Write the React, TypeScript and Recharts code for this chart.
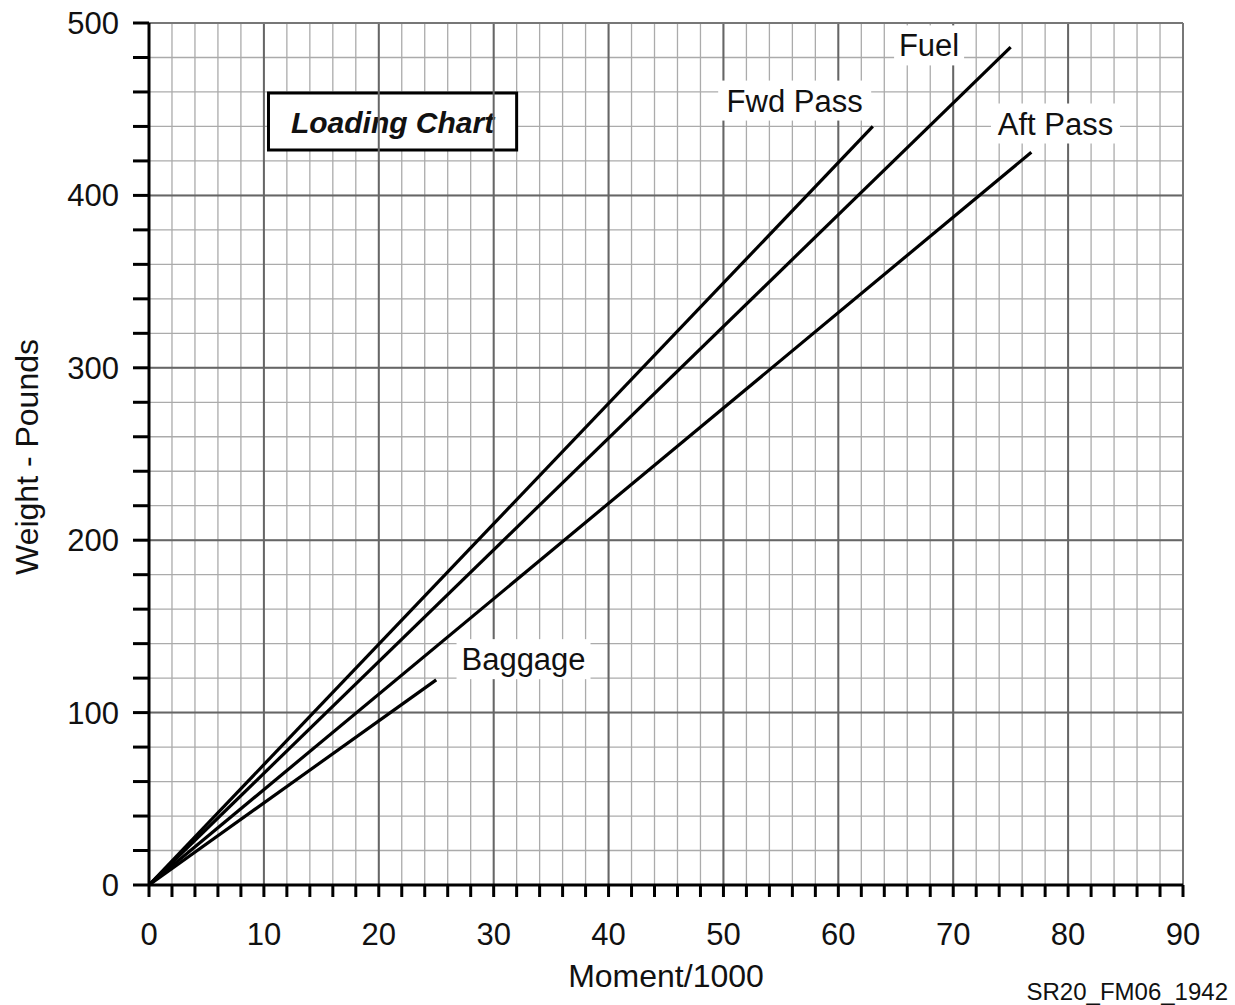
import React from "react"
import {
  LineChart,
  Line,
  XAxis,
  YAxis,
  CartesianGrid,
  ReferenceLine,
  ReferenceArea,
  ReferenceDot,
} from "recharts"

// weight (lb) vs moment/1000 for each loading station
const fwdPass = [
  { x: 0, y: 0 },
  { x: 63, y: 440 },
]
const fuel = [
  { x: 0, y: 0 },
  { x: 75, y: 486 },
]
const aftPass = [
  { x: 0, y: 0 },
  { x: 76.8, y: 425 },
]
const baggage = [
  { x: 0, y: 0 },
  { x: 25, y: 119 },
]

const xTicks = [
  0, 2, 4, 6, 8, 10, 12, 14, 16, 18, 20, 22, 24, 26, 28, 30, 32, 34, 36, 38, 40,
  42, 44, 46, 48, 50, 52, 54, 56, 58, 60, 62, 64, 66, 68, 70, 72, 74, 76, 78, 80,
  82, 84, 86, 88, 90,
]
const yTicks = [
  0, 20, 40, 60, 80, 100, 120, 140, 160, 180, 200, 220, 240, 260, 280, 300, 320,
  340, 360, 380, 400, 420, 440, 460, 480, 500,
]
const xMajor = [10, 20, 30, 40, 50, 60, 70, 80]
const yMajor = [100, 200, 300, 400]

const FONT = "'Liberation Sans', Arial, Helvetica, sans-serif"

const tag = (text: string, width: number) => (props: any) => {
  const { cx, cy } = props
  return (
    <g>
      <rect x={cx - width / 2 - 6} y={cy - 20} width={width + 12} height={40} fill="#fff" />
      <text
        x={cx}
        y={cy + 11}
        textAnchor="middle"
        fontFamily={FONT}
        fontSize={31}
        fill="#111"
      >
        {text}
      </text>
    </g>
  )
}

export default function App() {
  return (
    <div style={{ position: "absolute", left: 0, top: 0, background: "#fff" }}>
      <LineChart
        width={1235}
        height={1005}
        margin={{ top: 23, right: 52, bottom: 0, left: 0 }}
      >
        <CartesianGrid stroke="#ababab" strokeWidth={1.3} />
        {xMajor.map((v) => (
          <ReferenceLine key={"x" + v} x={v} stroke="#666" strokeWidth={2} />
        ))}
        {yMajor.map((v) => (
          <ReferenceLine key={"y" + v} y={v} stroke="#666" strokeWidth={2} />
        ))}
        <ReferenceLine x={90} stroke="#777" strokeWidth={2} />
        <ReferenceLine y={500} stroke="#777" strokeWidth={2} />
        <XAxis
          type="number"
          dataKey="x"
          domain={[0, 90]}
          ticks={xTicks}
          interval={0}
          height={120}
          tickSize={12}
          tickMargin={26}
          tickFormatter={(v) => (v % 10 === 0 ? String(v) : "")}
          axisLine={{ stroke: "#000", strokeWidth: 3 }}
          tickLine={{ stroke: "#000", strokeWidth: 3 }}
          tick={{ fill: "#111", fontSize: 31, fontFamily: FONT }}
          label={{
            content: ({ viewBox }: any) => (
              <g>
                <text
                  x={viewBox.x + viewBox.width / 2}
                  y={987}
                  textAnchor="middle"
                  fontFamily={FONT}
                  fontSize={32}
                  fill="#111"
                >
                  Moment/1000
                </text>
                <text
                  x={1228}
                  y={1000}
                  textAnchor="end"
                  fontFamily={FONT}
                  fontSize={24}
                  fill="#111"
                >
                  SR20_FM06_1942
                </text>
              </g>
            ),
          }}
        />
        <YAxis
          type="number"
          domain={[0, 500]}
          ticks={yTicks}
          interval={0}
          width={149}
          tickSize={16}
          tickMargin={14}
          tickFormatter={(v) => (v % 100 === 0 ? String(v) : "")}
          axisLine={{ stroke: "#000", strokeWidth: 3 }}
          tickLine={{ stroke: "#000", strokeWidth: 3 }}
          tick={{ fill: "#111", fontSize: 31, fontFamily: FONT }}
          label={{
            content: ({ viewBox }: any) => {
              const cy = viewBox.y + viewBox.height / 2 + 3
              return (
                <text
                  x={38}
                  y={cy}
                  transform={`rotate(-90, 38, ${cy})`}
                  textAnchor="middle"
                  fontFamily={FONT}
                  fontSize={32}
                  fill="#111"
                >
                  Weight - Pounds
                </text>
              )
            },
          }}
        />
        <ReferenceArea
          x1={10.4}
          x2={32}
          y1={426.3}
          y2={459.4}
          fill="#fff"
          fillOpacity={1}
          stroke="#000"
          strokeWidth={3}
          label={{
            content: ({ viewBox }: any) => (
              <text
                x={viewBox.x + viewBox.width / 2}
                y={viewBox.y + viewBox.height / 2 + 11}
                textAnchor="middle"
                fontFamily={FONT}
                fontSize={30}
                fontWeight="bold"
                fontStyle="italic"
                fill="#111"
              >
                Loading Chart
              </text>
            ),
          }}
        />
        <ReferenceDot x={56.2} y={455} r={0} shape={tag("Fwd Pass", 141)} />
        <ReferenceDot x={67.9} y={487} r={0} shape={tag("Fuel", 58)} />
        <ReferenceDot x={78.9} y={441.7} r={0} shape={tag("Aft Pass", 117)} />
        <ReferenceDot x={32.6} y={131} r={0} shape={tag("Baggage", 122)} />
        <Line data={fwdPass} dataKey="y" stroke="#000" strokeWidth={3.2} dot={false} isAnimationActive={false} />
        <Line data={fuel} dataKey="y" stroke="#000" strokeWidth={3.2} dot={false} isAnimationActive={false} />
        <Line data={aftPass} dataKey="y" stroke="#000" strokeWidth={3.2} dot={false} isAnimationActive={false} />
        <Line data={baggage} dataKey="y" stroke="#000" strokeWidth={3.2} dot={false} isAnimationActive={false} />
      </LineChart>
    </div>
  )
}
